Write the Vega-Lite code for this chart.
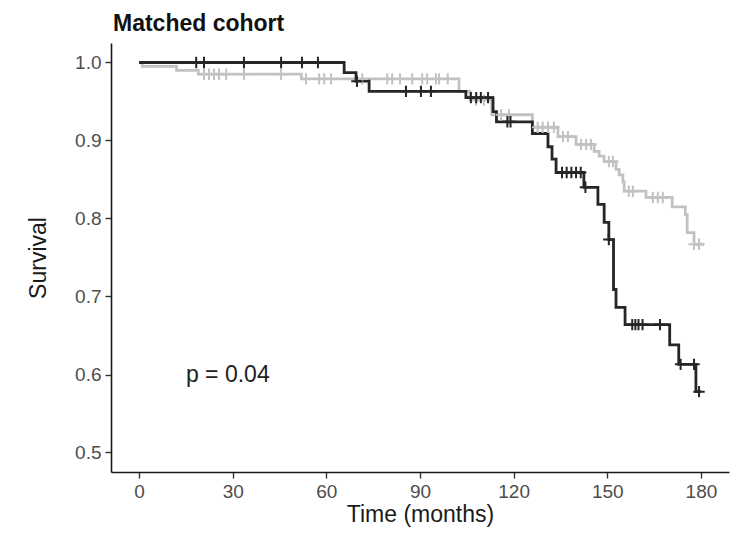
{
  "$schema": "https://vega.github.io/schema/vega-lite/v6.json",
  "autosize": "none",
  "width": 618,
  "height": 429,
  "padding": {"left": 111, "top": 43, "right": 2, "bottom": 61},
  "background": "white",
  "config": {
    "view": {"stroke": null},
    "font": "Liberation Sans",
    "axis": {
      "grid": false,
      "domainColor": "#1a1a1a",
      "domainWidth": 1.6,
      "tickColor": "#333333",
      "tickWidth": 1.4,
      "tickSize": 6,
      "labelFont": "Liberation Sans",
      "labelFontSize": 19,
      "labelColor": "#4d4d4d",
      "titleFont": "Liberation Sans",
      "titleFontSize": 23,
      "titleFontWeight": "normal",
      "titleColor": "#1a1a1a"
    }
  },
  "title": {
    "text": "Matched cohort",
    "anchor": "start",
    "frame": "group",
    "fontSize": 23,
    "fontWeight": "bold",
    "color": "#111111",
    "font": "Liberation Sans",
    "offset": 7,
    "dx": 2
  },
  "datasets": {
    "curves": [
      {"group": "B", "t": 0, "s": 1.0},
      {"group": "B", "t": 1, "s": 0.995},
      {"group": "B", "t": 12, "s": 0.99},
      {"group": "B", "t": 19, "s": 0.985},
      {"group": "B", "t": 52, "s": 0.979},
      {"group": "B", "t": 102.5, "s": 0.963},
      {"group": "B", "t": 106, "s": 0.952},
      {"group": "B", "t": 113, "s": 0.933},
      {"group": "B", "t": 126, "s": 0.917},
      {"group": "B", "t": 134.2, "s": 0.905},
      {"group": "B", "t": 140, "s": 0.895},
      {"group": "B", "t": 145.8, "s": 0.886},
      {"group": "B", "t": 147.4, "s": 0.88},
      {"group": "B", "t": 149, "s": 0.873},
      {"group": "B", "t": 152.8, "s": 0.863},
      {"group": "B", "t": 153.8, "s": 0.856},
      {"group": "B", "t": 155, "s": 0.847},
      {"group": "B", "t": 155.4, "s": 0.835},
      {"group": "B", "t": 162.4, "s": 0.827},
      {"group": "B", "t": 170.8, "s": 0.815},
      {"group": "B", "t": 175, "s": 0.805},
      {"group": "B", "t": 175.6, "s": 0.782},
      {"group": "B", "t": 177.8, "s": 0.767},
      {"group": "B", "t": 181, "s": 0.767},
      {"group": "A", "t": 0, "s": 1.0},
      {"group": "A", "t": 65.7, "s": 0.987},
      {"group": "A", "t": 69.5, "s": 0.976},
      {"group": "A", "t": 73.7, "s": 0.963},
      {"group": "A", "t": 104.7, "s": 0.955},
      {"group": "A", "t": 113.4, "s": 0.937},
      {"group": "A", "t": 114.5, "s": 0.924},
      {"group": "A", "t": 126, "s": 0.909},
      {"group": "A", "t": 131, "s": 0.892},
      {"group": "A", "t": 132.3, "s": 0.876},
      {"group": "A", "t": 133.6, "s": 0.859},
      {"group": "A", "t": 142.5, "s": 0.84},
      {"group": "A", "t": 147, "s": 0.818},
      {"group": "A", "t": 149, "s": 0.795},
      {"group": "A", "t": 150.5, "s": 0.773},
      {"group": "A", "t": 152, "s": 0.709},
      {"group": "A", "t": 152.8, "s": 0.686},
      {"group": "A", "t": 155.7, "s": 0.664},
      {"group": "A", "t": 170, "s": 0.638},
      {"group": "A", "t": 172.9, "s": 0.613},
      {"group": "A", "t": 178.4, "s": 0.578},
      {"group": "A", "t": 180, "s": 0.578}
    ],
    "censors": [
      {"group": "B", "t": 20.8, "s": 0.985},
      {"group": "B", "t": 22.4, "s": 0.985},
      {"group": "B", "t": 24, "s": 0.985},
      {"group": "B", "t": 25.6, "s": 0.985},
      {"group": "B", "t": 27.9, "s": 0.985},
      {"group": "B", "t": 33.6, "s": 0.985},
      {"group": "B", "t": 45.5, "s": 0.985},
      {"group": "B", "t": 53.5, "s": 0.979},
      {"group": "B", "t": 57.7, "s": 0.979},
      {"group": "B", "t": 59.3, "s": 0.979},
      {"group": "B", "t": 61.5, "s": 0.979},
      {"group": "B", "t": 71.5, "s": 0.979},
      {"group": "B", "t": 79.5, "s": 0.979},
      {"group": "B", "t": 81.1, "s": 0.979},
      {"group": "B", "t": 83.6, "s": 0.979},
      {"group": "B", "t": 87.5, "s": 0.979},
      {"group": "B", "t": 90.7, "s": 0.979},
      {"group": "B", "t": 92.3, "s": 0.979},
      {"group": "B", "t": 95.1, "s": 0.979},
      {"group": "B", "t": 96.1, "s": 0.979},
      {"group": "B", "t": 98.9, "s": 0.979},
      {"group": "B", "t": 108, "s": 0.952},
      {"group": "B", "t": 110.5, "s": 0.952},
      {"group": "B", "t": 116, "s": 0.933},
      {"group": "B", "t": 118.5, "s": 0.933},
      {"group": "B", "t": 127.7, "s": 0.917},
      {"group": "B", "t": 129.3, "s": 0.917},
      {"group": "B", "t": 131, "s": 0.917},
      {"group": "B", "t": 132.9, "s": 0.917},
      {"group": "B", "t": 135.8, "s": 0.905},
      {"group": "B", "t": 137.4, "s": 0.905},
      {"group": "B", "t": 141.6, "s": 0.895},
      {"group": "B", "t": 143.2, "s": 0.895},
      {"group": "B", "t": 144.8, "s": 0.895},
      {"group": "B", "t": 150.5, "s": 0.873},
      {"group": "B", "t": 151.8, "s": 0.873},
      {"group": "B", "t": 156.9, "s": 0.835},
      {"group": "B", "t": 158.2, "s": 0.835},
      {"group": "B", "t": 164.6, "s": 0.827},
      {"group": "B", "t": 166.2, "s": 0.827},
      {"group": "B", "t": 167.8, "s": 0.827},
      {"group": "B", "t": 177.8, "s": 0.767},
      {"group": "B", "t": 179.4, "s": 0.767},
      {"group": "A", "t": 18.3, "s": 1.0},
      {"group": "A", "t": 20.8, "s": 1.0},
      {"group": "A", "t": 33.6, "s": 1.0},
      {"group": "A", "t": 45.5, "s": 1.0},
      {"group": "A", "t": 52.2, "s": 1.0},
      {"group": "A", "t": 57.3, "s": 1.0},
      {"group": "A", "t": 69.8, "s": 0.976},
      {"group": "A", "t": 85.5, "s": 0.963},
      {"group": "A", "t": 90.3, "s": 0.963},
      {"group": "A", "t": 93.5, "s": 0.963},
      {"group": "A", "t": 106.3, "s": 0.955},
      {"group": "A", "t": 108, "s": 0.955},
      {"group": "A", "t": 109.5, "s": 0.955},
      {"group": "A", "t": 111.8, "s": 0.955},
      {"group": "A", "t": 118, "s": 0.924},
      {"group": "A", "t": 119, "s": 0.924},
      {"group": "A", "t": 135.5, "s": 0.859},
      {"group": "A", "t": 137, "s": 0.859},
      {"group": "A", "t": 138.5, "s": 0.859},
      {"group": "A", "t": 140, "s": 0.859},
      {"group": "A", "t": 141.5, "s": 0.859},
      {"group": "A", "t": 143, "s": 0.84},
      {"group": "A", "t": 150.5, "s": 0.773},
      {"group": "A", "t": 158, "s": 0.664},
      {"group": "A", "t": 159, "s": 0.664},
      {"group": "A", "t": 160, "s": 0.664},
      {"group": "A", "t": 161.3, "s": 0.664},
      {"group": "A", "t": 166.9, "s": 0.664},
      {"group": "A", "t": 173.5, "s": 0.613},
      {"group": "A", "t": 177.8, "s": 0.613},
      {"group": "A", "t": 179.4, "s": 0.578}
    ],
    "annot": [
      {"t": 15, "s": 0.6, "label": "p = 0.04"}
    ]
  },
  "encoding": {
    "x": {
      "field": "t",
      "type": "quantitative",
      "title": "Time (months)",
      "scale": {"domain": [-9, 189], "nice": false, "zero": false},
      "axis": {"values": [0, 30, 60, 90, 120, 150, 180], "labelPadding": 4, "titlePadding": 2}
    },
    "y": {
      "field": "s",
      "type": "quantitative",
      "title": "Survival",
      "scale": {"domain": [0.475, 1.025], "nice": false, "zero": false},
      "axis": {"values": [0.5, 0.6, 0.7, 0.8, 0.9, 1.0], "format": ".1f", "labelPadding": 4, "titlePadding": 24}
    }
  },
  "layer": [
    {
      "data": {"name": "curves"},
      "mark": {"type": "line", "interpolate": "step-after", "strokeWidth": 2.8},
      "encoding": {
        "color": {
          "field": "group",
          "type": "nominal",
          "scale": {"domain": ["B", "A"], "range": ["#c2c2c2", "#262626"]},
          "legend": null
        },
        "order": {"field": "t", "type": "quantitative"}
      }
    },
    {
      "data": {"name": "censors"},
      "mark": {"type": "point", "shape": "M0,-1V1M-1,0H1", "filled": false, "size": 130, "strokeWidth": 2, "opacity": 1},
      "encoding": {
        "color": {
          "field": "group",
          "type": "nominal",
          "scale": {"domain": ["B", "A"], "range": ["#c2c2c2", "#262626"]},
          "legend": null
        }
      }
    },
    {
      "data": {"name": "annot"},
      "mark": {"type": "text", "align": "left", "baseline": "middle", "fontSize": 23, "color": "#222222", "font": "Liberation Sans"},
      "encoding": {
        "text": {"field": "label"}
      }
    }
  ]
}
